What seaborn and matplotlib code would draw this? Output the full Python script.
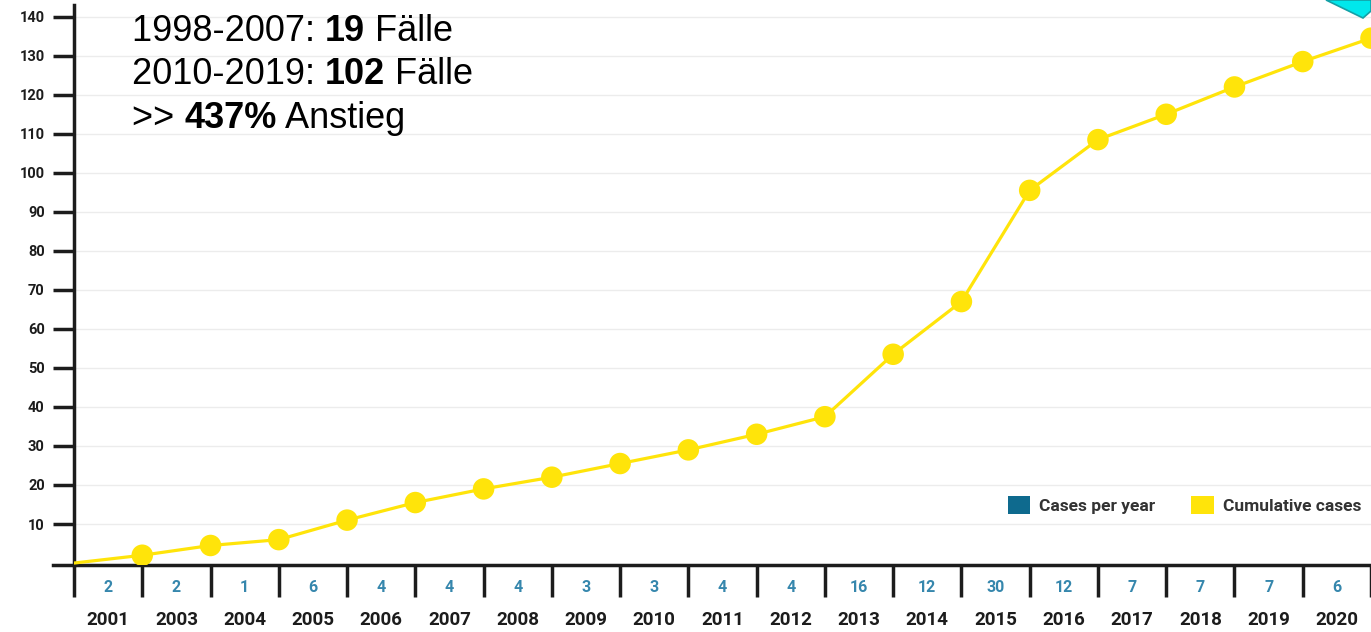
import matplotlib
matplotlib.use("Agg")
import matplotlib.pyplot as plt
import seaborn as sns
import pandas as pd
from matplotlib.patches import Patch, Polygon

# ---- data ----
years = ["2001", "2003", "2004", "2005", "2006", "2007", "2008", "2009", "2010", "2011",
         "2012", "2013", "2014", "2015", "2016", "2017", "2018", "2019", "2020"]
cases_per_year = [2, 2, 1, 6, 4, 4, 4, 3, 3, 4, 4, 16, 12, 30, 12, 7, 7, 7, 6]
cumulative = [0, 2, 4.5, 6, 11, 15.5, 19, 22, 25.5, 29, 33, 37.5, 53.5, 67, 95.5,
              108.5, 115, 122, 128.5, 134.5]
y_ticks = [10, 20, 30, 40, 50, 60, 70, 80, 90, 100, 110, 120, 130, 140]
legend_labels = ["Cases per year", "Cumulative cases"]
note_lines = [("1998-2007: ", "19", " Fälle"), ("2010-2019: ", "102", " Fälle"), (">> ", "437%", " Anstieg")]

YELLOW = "#FFE40A"
BLUE_SQ = "#0e6a8e"
BLUE_TXT = "#3687ad"
DARK = "#1c1c1c"

sns.set_style("white")
plt.rcParams["font.family"] = ["Roboto", "DejaVu Sans"]

W, H = 1371, 632
fig = plt.figure(figsize=(W / 100, H / 100), dpi=100)
ax = fig.add_axes([74 / W, 1 - 565 / H, (W - 74) / W, (565 - 5) / H])

df = pd.DataFrame({"pos": range(len(cumulative)), "cum": cumulative})
sns.lineplot(data=df, x="pos", y="cum", color=YELLOW, lw=2.3, ax=ax, zorder=3)
sns.scatterplot(data=df.iloc[1:], x="pos", y="cum", color=YELLOW, s=240,
                edgecolor="none", ax=ax, zorder=4)

ax.set_xlim(0, len(years))
ax.set_ylim(-0.5, 143)
ax.set_xlabel("")
ax.set_ylabel("")

# spines
for s in ["top", "right"]:
    ax.spines[s].set_visible(False)
ax.spines["left"].set_linewidth(2.5)
ax.spines["left"].set_color(DARK)
ax.spines["bottom"].set_linewidth(2.5)
ax.spines["bottom"].set_color(DARK)
ax.spines["bottom"].set_bounds(-0.31, len(years))

# y ticks
ax.set_yticks(y_ticks)
ax.set_yticklabels([str(v) for v in y_ticks], fontsize=10.5, fontweight="bold", color=DARK)
ax.tick_params(axis="y", left=True, direction="out", length=15, width=2.5, color=DARK, pad=6)
ax.yaxis.grid(True, color="#ececec", lw=1)
ax.xaxis.grid(False)

# x ticks as column separators
ax.set_xticks(range(len(years) + 1))
ax.set_xticklabels([])
ax.tick_params(axis="x", bottom=True, direction="out", length=23, width=2.5, color=DARK)

for i, (yr, c) in enumerate(zip(years, cases_per_year)):
    ax.annotate(str(c), xy=(i + 0.5, 0), xycoords=("data", "axes fraction"),
                xytext=(0, -16.5), textcoords="offset points", ha="center", va="center",
                fontsize=11.5, fontweight="bold", color=BLUE_TXT, annotation_clip=False)
    ax.annotate(yr, xy=(i + 0.5, 0), xycoords=("data", "axes fraction"),
                xytext=(0, -39.5), textcoords="offset points", ha="center", va="center",
                fontsize=13.5, fontweight="bold", color=DARK, annotation_clip=False)

# legend
handles = [Patch(facecolor=BLUE_SQ, edgecolor="none"), Patch(facecolor=YELLOW, edgecolor="none")]
leg = fig.legend(handles, legend_labels, loc="center right", ncol=2, frameon=False,
                 bbox_to_anchor=(1361 / W, 1 - 505 / H), bbox_transform=fig.transFigure,
                 borderaxespad=0, borderpad=0,
                 handlelength=1.3, handleheight=1.3, handletextpad=0.5, columnspacing=2.1,
                 prop={"family": "Roboto", "weight": "bold", "size": 12.5})
for t in leg.get_texts():
    t.set_color("#333333")

# annotation text block
for k, (a, b, c) in enumerate(note_lines):
    y = 1 - (31.5 + 43.5 * k) / H
    t1 = fig.text(132 / W, y, a, fontsize=26, family="Liberation Sans", va="center", color="black")
    t2 = ax.annotate(b, xy=(1, 0), xycoords=t1, va="bottom", ha="left", fontsize=26,
                     family="Liberation Sans", fontweight="bold", color="black")
    ax.annotate(c, xy=(1, 0), xycoords=t2, va="bottom", ha="left", fontsize=26,
                family="Liberation Sans", color="black")

# cyan corner shape
poly = Polygon([(1326 / W, 1.0), (1.0, 1.0), (1.0, 1 - 11 / H), (1363 / W, 1 - 18 / H)],
               closed=True, transform=fig.transFigure, facecolor="#00e8ec",
               edgecolor="#14a0a6", lw=1.2)
fig.patches.append(poly)

fig.savefig("out.png", dpi=100, facecolor="white")
